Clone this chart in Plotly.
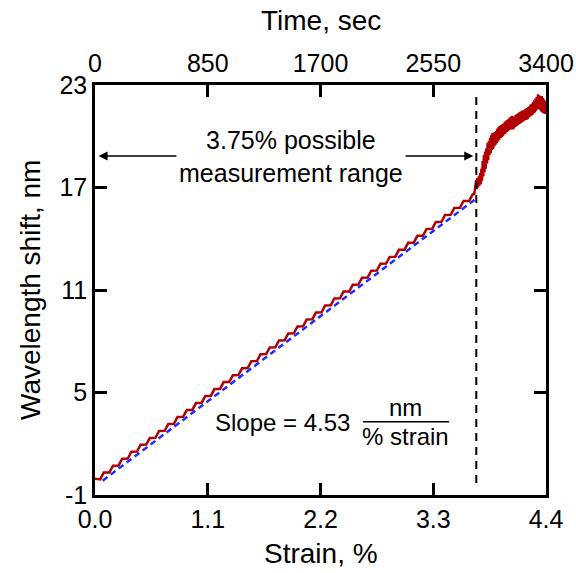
import plotly.graph_objects as go

# ---- data ----
strain_lin = [0.00, 0.04, 0.05, 0.085, 0.14, 0.175, 0.23, 0.265, 0.32, 0.355, 0.41, 0.445,
              0.50, 0.535, 0.59, 0.625, 0.68, 0.715, 0.77, 0.805, 0.86, 0.895, 0.95, 0.985,
              1.04, 1.075, 1.13, 1.165, 1.22, 1.255, 1.31, 1.345, 1.40, 1.435, 1.49, 1.525,
              1.58, 1.615, 1.67, 1.705, 1.76, 1.795, 1.85, 1.885, 1.94, 1.975, 2.03, 2.065,
              2.12, 2.155, 2.21, 2.245, 2.30, 2.335, 2.39, 2.425, 2.48, 2.515, 2.57, 2.605,
              2.66, 2.695, 2.75, 2.785, 2.84, 2.875, 2.93, 2.965, 3.02, 3.055, 3.11, 3.145,
              3.20, 3.235, 3.29, 3.325, 3.38, 3.415, 3.47, 3.505, 3.56, 3.595, 3.65, 3.685]
shift_lin = [-0.05, -0.05, -0.09, 0.31, 0.31, 0.71, 0.72, 1.12, 1.13, 1.53, 1.54, 1.94,
             1.95, 2.34, 2.35, 2.75, 2.76, 3.16, 3.17, 3.57, 3.58, 3.97, 3.98, 4.38,
             4.39, 4.79, 4.80, 5.20, 5.21, 5.61, 5.61, 6.01, 6.02, 6.42, 6.43, 6.83,
             6.84, 7.24, 7.25, 7.64, 7.65, 8.05, 8.06, 8.46, 8.47, 8.87, 8.88, 9.27,
             9.28, 9.68, 9.69, 10.09, 10.10, 10.50, 10.51, 10.91, 10.91, 11.31, 11.32, 11.72,
             11.73, 12.13, 12.14, 12.54, 12.55, 12.94, 12.95, 13.35, 13.36, 13.76, 13.77, 14.17,
             14.18, 14.57, 14.58, 14.98, 14.99, 15.39, 15.40, 15.80, 15.81, 16.21, 16.21, 16.61]

strain_end = [3.700, 3.712, 3.718, 3.724, 3.730, 3.737, 3.744, 3.750, 3.757, 3.764, 3.770, 3.776,
              3.782, 3.788, 3.794, 3.800, 3.806, 3.812, 3.818, 3.824, 3.830, 3.836, 3.842, 3.848,
              3.854, 3.860, 3.866, 3.872, 3.878, 3.884, 3.890, 3.896, 3.902, 3.908, 3.914, 3.920,
              3.926, 3.932, 3.938, 3.944, 3.950, 3.956, 3.962, 3.968, 3.974, 3.980, 3.986, 3.992,
              3.998, 4.004, 4.010, 4.016, 4.022, 4.028, 4.034, 4.040, 4.046, 4.052, 4.058, 4.064,
              4.070, 4.076, 4.082, 4.088, 4.094, 4.100, 4.106, 4.112, 4.118, 4.124, 4.130, 4.136,
              4.142, 4.148, 4.154, 4.160, 4.166, 4.172, 4.178, 4.184, 4.190, 4.196, 4.202, 4.208,
              4.214, 4.220, 4.226, 4.232, 4.238, 4.244, 4.250, 4.256, 4.262, 4.268, 4.274, 4.280,
              4.286, 4.292, 4.298, 4.304, 4.310, 4.316, 4.322, 4.328, 4.334, 4.340, 4.346, 4.352,
              4.358, 4.364, 4.370, 4.376, 4.382, 4.388, 4.394, 4.400]
shift_end = [16.62, 17.10, 17.45, 16.90, 17.55, 17.00, 17.65, 17.10, 17.85, 17.20, 18.10, 17.40,
             18.55, 17.65, 18.90, 17.90, 19.10, 18.10, 19.30, 18.40, 19.60, 18.60, 19.70, 18.90,
             19.90, 19.00, 20.05, 19.20, 20.20, 19.25, 20.15, 19.40, 20.25, 19.50, 20.30, 19.60,
             20.45, 19.70, 20.55, 19.80, 20.60, 19.90, 20.65, 19.95, 20.70, 20.00, 20.75, 20.10,
             20.85, 20.15, 20.90, 20.25, 20.95, 20.30, 21.00, 20.35, 21.10, 20.40, 21.15, 20.45,
             21.20, 20.40, 21.10, 20.45, 21.15, 20.55, 21.25, 20.60, 21.30, 20.65, 21.35, 20.70,
             21.40, 20.75, 21.45, 20.80, 21.50, 20.85, 21.50, 20.90, 21.55, 20.95, 21.60, 20.95,
             21.65, 21.00, 21.70, 21.10, 21.75, 21.15, 21.85, 21.20, 21.90, 21.25, 22.00, 21.35,
             22.10, 21.40, 22.20, 21.50, 22.30, 21.60, 22.45, 21.65, 22.40, 21.55, 22.30, 21.45,
             22.35, 21.40, 22.25, 21.35, 22.15, 21.30, 22.05, 21.45]

fit_strain = [0.075, 3.71]
fit_shift = [-0.16, 16.31]

limit_strain = 3.72
limit_shift = [-0.3, 22.3]

strain_ticks = [0.0, 1.1, 2.2, 3.3, 4.4]
strain_ticktext = ["0.0", "1.1", "2.2", "3.3", "4.4"]
time_ticks = [0, 850, 1700, 2550, 3400]
shift_ticks = [-1, 5, 11, 17, 23]
shift_ticktext = ["-1", "5", "11", "17", "23"]

FONT = "Liberation Sans, Arial, sans-serif"
RED = "#b00000"
BLUE = "#1f2bff"
TXT = 25
TITLE = 28

fig = go.Figure()
fig.add_trace(go.Scatter(x=strain_lin + strain_end, y=shift_lin + shift_end, mode="lines",
                         line=dict(color=RED, width=2.5), showlegend=False, hoverinfo="skip"))
fig.add_trace(go.Scatter(x=fit_strain, y=fit_shift, mode="lines",
                         line=dict(color=BLUE, width=2.5, dash="6px,4px"), showlegend=False))
fig.add_trace(go.Scatter(x=[limit_strain, limit_strain], y=limit_shift, mode="lines",
                         line=dict(color="black", width=2, dash="8px,6px"), showlegend=False))
# invisible trace on the top (time) axis
fig.add_trace(go.Scatter(x=[time_ticks[0], time_ticks[-1]], y=[shift_ticks[0], shift_ticks[0]],
                         xaxis="x2", mode="lines", line=dict(width=0), opacity=0,
                         showlegend=False, hoverinfo="skip"))

# double arrow
fig.add_annotation(x=3.69, y=18.84, ax=0.02, ay=18.84, xref="x", yref="y", axref="x", ayref="y",
                   showarrow=True, arrowside="end+start", arrowhead=2, arrowsize=1.2,
                   arrowwidth=1.5, arrowcolor="black", text="")
fig.add_annotation(x=1.91, y=18.79, xref="x", yref="y", showarrow=False,
                   text="3.75% possible<br>measurement range", bgcolor="white",
                   font=dict(family=FONT, size=TXT, color="black"), borderpad=2)

# slope annotation
fig.add_annotation(x=1.15, y=3.27, xref="x", yref="y", showarrow=False, xanchor="left",
                   text="Slope = 4.53", font=dict(family=FONT, size=24, color="black"))
fig.add_annotation(x=3.034, y=4.15, xref="x", yref="y", showarrow=False,
                   text="nm", font=dict(family=FONT, size=24, color="black"))
fig.add_annotation(x=3.034, y=2.40, xref="x", yref="y", showarrow=False,
                   text="% strain", font=dict(family=FONT, size=24, color="black"))
fig.add_shape(type="line", x0=2.615, x1=3.454, y0=3.29, y1=3.29, xref="x", yref="y",
              line=dict(color="black", width=1.5))

# axis titles
fig.add_annotation(x=0.5, y=(495 - 553) / 410, xref="paper", yref="paper", showarrow=False,
                   xanchor="center", yanchor="middle",
                   text="Strain, %", font=dict(family=FONT, size=TITLE, color="black"))
fig.add_annotation(x=0.5, y=(495 - 20) / 410, xref="paper", yref="paper", showarrow=False,
                   xanchor="center", yanchor="middle",
                   text="Time, sec", font=dict(family=FONT, size=TITLE, color="black"))
fig.add_annotation(x=(30 - 95) / 451, y=0.5, xref="paper", yref="paper", showarrow=False,
                   xanchor="center", yanchor="middle",
                   text="Wavelength shift, nm", textangle=-90,
                   font=dict(family=FONT, size=TITLE, color="black"))

axis_common = dict(showline=True, linecolor="black", linewidth=2.5, ticks="inside",
                   ticklen=12, tickwidth=2.5, tickcolor="black", showgrid=False,
                   zeroline=False, tickfont=dict(family=FONT, size=TXT, color="black"))

fig.update_layout(
    width=576, height=573,
    margin=dict(l=95, r=30, t=85, b=78, autoexpand=False),
    paper_bgcolor="white", plot_bgcolor="white",
    xaxis=dict(range=[0, 4.4], tickvals=strain_ticks, ticktext=strain_ticktext, **axis_common),
    xaxis2=dict(range=[0, 3400], tickvals=time_ticks, overlaying="x", side="top", **axis_common),
    yaxis=dict(range=[-1, 23], tickvals=shift_ticks, ticktext=shift_ticktext, mirror="ticks",
               **axis_common),
)

fig.write_html("out.html")
